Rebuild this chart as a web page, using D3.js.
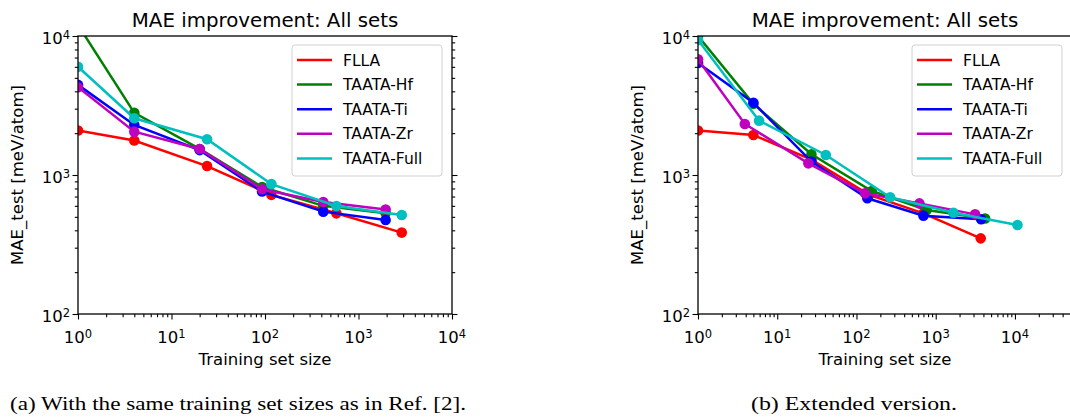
<!DOCTYPE html>
<html>
<head>
<meta charset="utf-8">
<script src="https://cdn.jsdelivr.net/npm/d3@7"></script>
<style>
  body { margin: 0; background: #fff; }
  text { font-family: "DejaVu Sans", sans-serif; fill: #000; }
  .caption { font-family: "Liberation Serif", "DejaVu Serif", serif; }
</style>
</head>
<body>
<div id="chart"></div>
<script>
// series names and colours (matplotlib r, g, b, m, c)
var seriesNames = ["FLLA", "TAATA-Hf", "TAATA-Ti", "TAATA-Zr", "TAATA-Full"];
var seriesColors = ["#ff0000", "#008000", "#0000ff", "#bf00bf", "#00bfbf"];

// (a) same training set sizes as in Ref. [2]
var leftSizes = [
  [1, 4, 24, 117, 580, 2900],
  [1, 4, 20, 93, 420, 1950],
  [1, 4, 20, 93, 420, 1950],
  [1, 4, 20, 93, 420, 1950],
  [1, 4, 24, 117, 580, 2900]
];
var leftMAE = [
  [2090, 1770, 1160, 720, 530, 385],
  [12000, 2800, 1540, 820, 600, 530],
  [4450, 2290, 1510, 760, 545, 475],
  [4280, 2050, 1540, 790, 640, 565],
  [6010, 2560, 1810, 860, 598, 515]
];

// (b) extended version
var rightSizes = [
  [1, 5, 27, 145, 700, 3700],
  [1, 5, 27, 156, 770, 4200],
  [1, 5, 27, 137, 700, 3740],
  [1, 3.9, 24.7, 128, 623, 3140],
  [1, 5.9, 41, 266, 1675, 10760]
];
var rightMAE = [
  [2090, 1940, 1290, 720, 530, 350],
  [10000, 3250, 1410, 767, 560, 487],
  [6400, 3310, 1250, 680, 510, 480],
  [6800, 2330, 1213, 738, 625, 521],
  [9360, 2460, 1393, 692, 535, 437]
];

var xTickExps = [0, 1, 2, 3, 4];
var yTickExps = [2, 3, 4];

var svgWidth = 1070;
var svgHeight = 418;

// plot area of each panel
var margin = { top: 36, left: 78 };
var width = 374;
var height = 278;

var svg = d3.select("#chart")
  .append("svg")
  .attr("width", svgWidth)
  .attr("height", svgHeight);

function drawPanel(id, left, xMax, sizes, mae, caption, captionX, captionLen) {
  var g = svg.append("g")
    .attr("transform", `translate(${left}, ${margin.top})`);

  var x = d3.scaleLog().domain([1, xMax]).range([0, width]);
  var y = d3.scaleLog().domain([100, 1e4]).range([height, 0]);

  var xMajor = xTickExps.map(e => Math.pow(10, e)).filter(v => v <= xMax);
  var xMinor = x.ticks().filter(v => !xMajor.includes(v));
  var yMajor = yTickExps.map(e => Math.pow(10, e));
  var yMinor = y.ticks().filter(v => !yMajor.includes(v));

  // ticks
  function tickGroup(axis, transform) {
    var a = g.append("g").attr("transform", transform).call(axis);
    a.select(".domain").remove();
    a.selectAll("line").attr("stroke", "#000").attr("stroke-width", 1.1);
    a.selectAll("text").remove();
    return a;
  }
  tickGroup(d3.axisBottom(x).tickValues(xMajor).tickSize(5.5), `translate(0, ${height})`);
  tickGroup(d3.axisBottom(x).tickValues(xMinor).tickSize(3.2), `translate(0, ${height})`);
  tickGroup(d3.axisLeft(y).tickValues(yMajor).tickSize(5.5), "translate(0,0)");
  tickGroup(d3.axisLeft(y).tickValues(yMinor).tickSize(3.2), "translate(0,0)");
  tickGroup(d3.axisRight(y).tickValues(yMajor).tickSize(5.5), `translate(${width},0)`);
  tickGroup(d3.axisRight(y).tickValues(yMinor).tickSize(3.2), `translate(${width},0)`);

  // tick labels 10^n
  xMajor.forEach(function(v) {
    var t = g.append("text")
      .attr("x", x(v))
      .attr("y", height + 29)
      .attr("text-anchor", "middle")
      .style("font-size", "16.5px");
    t.append("tspan").text("10");
    t.append("tspan").attr("dy", "-0.45em").style("font-size", "11.5px")
      .text(Math.round(Math.log10(v)));
  });
  yMajor.forEach(function(v) {
    var t = g.append("text")
      .attr("x", -8)
      .attr("y", y(v) + 8)
      .attr("text-anchor", "end")
      .style("font-size", "16.5px");
    t.append("tspan").text("10");
    t.append("tspan").attr("dy", "-0.45em").style("font-size", "11.5px")
      .text(Math.round(Math.log10(v)));
  });

  // clip for the lines
  svg.append("clipPath").attr("id", "clip-" + id)
    .append("rect").attr("width", width).attr("height", height);

  var plot = g.append("g").attr("clip-path", `url(#clip-${id})`);
  var line = d3.line().x(d => x(d[0])).y(d => y(d[1]));

  seriesNames.forEach(function(name, i) {
    var pts = sizes[i].map((s, j) => [s, mae[i][j]]);
    var sg = plot.append("g");
    sg.append("path")
      .datum(pts)
      .attr("d", line)
      .attr("fill", "none")
      .attr("stroke", seriesColors[i])
      .attr("stroke-width", 2.5);
    sg.selectAll("circle")
      .data(pts)
      .enter()
      .append("circle")
      .attr("cx", d => x(d[0]))
      .attr("cy", d => y(d[1]))
      .attr("r", 5.3)
      .attr("fill", seriesColors[i]);
  });

  // frame
  g.append("rect")
    .attr("width", width)
    .attr("height", height)
    .attr("fill", "none")
    .attr("stroke", "#000")
    .attr("stroke-width", 1.3);

  // title and axis labels
  g.append("text")
    .attr("x", width / 2)
    .attr("y", -9.5)
    .attr("text-anchor", "middle")
    .style("font-size", "19.8px")
    .text("MAE improvement: All sets");

  g.append("text")
    .attr("x", width / 2)
    .attr("y", height + 51)
    .attr("text-anchor", "middle")
    .style("font-size", "16.5px")
    .text("Training set size");

  g.append("text")
    .attr("transform", `translate(${-55}, ${height / 2}) rotate(-90)`)
    .attr("text-anchor", "middle")
    .style("font-size", "16.5px")
    .text("MAE_test [meV/atom]");

  // legend
  var lg = g.append("g").attr("transform", `translate(${width - 160}, 9)`);
  lg.append("rect")
    .attr("width", 150)
    .attr("height", 131)
    .attr("rx", 3)
    .attr("fill", "#fff")
    .attr("fill-opacity", 0.8)
    .attr("stroke", "#d0d0d0")
    .attr("stroke-width", 1);
  seriesNames.forEach(function(name, i) {
    var ry = 15 + i * 24.6;
    lg.append("line")
      .attr("x1", 5).attr("x2", 40)
      .attr("y1", ry).attr("y2", ry)
      .attr("stroke", seriesColors[i])
      .attr("stroke-width", 2.5);
    lg.append("text")
      .attr("x", 51)
      .attr("y", ry + 5.5)
      .style("font-size", "15.5px")
      .text(name);
  });

  // caption
  svg.append("text")
    .attr("class", "caption")
    .attr("x", captionX)
    .attr("y", 410)
    .attr("textLength", captionLen)
    .attr("lengthAdjust", "spacingAndGlyphs")
    .style("font-size", "19px")
    .text(caption);
}

drawPanel("a", 78, 1e4, leftSizes, leftMAE,
  "(a) With the same training set sizes as in Ref. [2].", 10, 456);
drawPanel("b", 698, Math.pow(10, 4.72), rightSizes, rightMAE,
  "(b) Extended version.", 751, 206);
</script>
</body>
</html>
